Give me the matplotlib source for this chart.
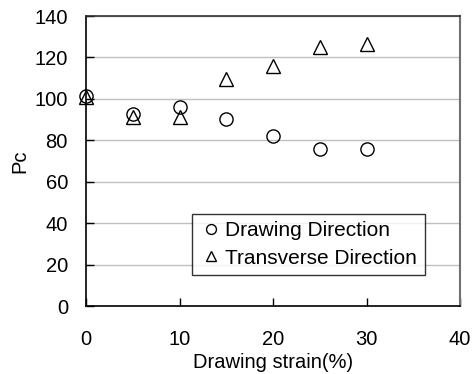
import matplotlib
matplotlib.use("Agg")
import matplotlib.pyplot as plt

strain = [0, 5, 10, 15, 20, 25, 30]
drawing_dir = [101.5, 92.9, 95.9, 90.1, 82.2, 75.6, 75.6]
transverse_dir = [101.0, 91.4, 91.1, 109.4, 115.9, 124.9, 126.3]
xticks = [0, 10, 20, 30, 40]
yticks = [0, 20, 40, 60, 80, 100, 120, 140]

plt.rcParams['font.family'] = ['Liberation Sans', 'DejaVu Sans']
FS = 14.5

fig = plt.figure(figsize=(4.74, 3.74), dpi=100)
ax = fig.add_axes([86/474, 1 - 306/374, (460-86)/474, (306-16)/374])

ax.plot(strain, drawing_dir, linestyle='none', marker='o', markersize=9.5,
        markerfacecolor='none', markeredgecolor='black', markeredgewidth=1.0,
        label='Drawing Direction', clip_on=False, zorder=3)
ax.plot(strain, transverse_dir, linestyle='none', marker='^', markersize=9.5,
        markerfacecolor='none', markeredgecolor='black', markeredgewidth=1.0,
        label='Transverse Direction', clip_on=False, zorder=3)

ax.set_xlim(0, 40)
ax.set_ylim(0, 140)
ax.set_xticks(xticks)
ax.set_yticks(yticks)
ax.yaxis.grid(True, color='#c0c0c0', linewidth=1.0)
ax.set_axisbelow(True)

ax.tick_params(axis='both', direction='in', length=6, width=1, labelsize=FS, colors='black')
ax.tick_params(axis='x', pad=17)
ax.tick_params(axis='y', pad=13)

for side in ['left', 'bottom']:
    ax.spines[side].set_color('black')
    ax.spines[side].set_linewidth(1.2)
ax.spines['top'].set_color('#303030')
ax.spines['right'].set_color('#707070')
ax.spines['top'].set_linewidth(1.2)
ax.spines['right'].set_linewidth(1.5)

ax.set_xlabel('Drawing strain(%)', fontsize=FS, labelpad=3)
ax.set_ylabel('Pc', fontsize=FS, labelpad=4)

leg = ax.legend(loc='lower left', bbox_to_anchor=((192-86)/374, (306-275)/290),
                fontsize=15, frameon=True, fancybox=False, edgecolor='black',
                handlelength=1.1, handletextpad=0.15, borderpad=0.35,
                labelspacing=0.4, markerscale=0.75, borderaxespad=0)
leg.get_frame().set_linewidth(1.0)

fig.savefig('out.png', dpi=100)
